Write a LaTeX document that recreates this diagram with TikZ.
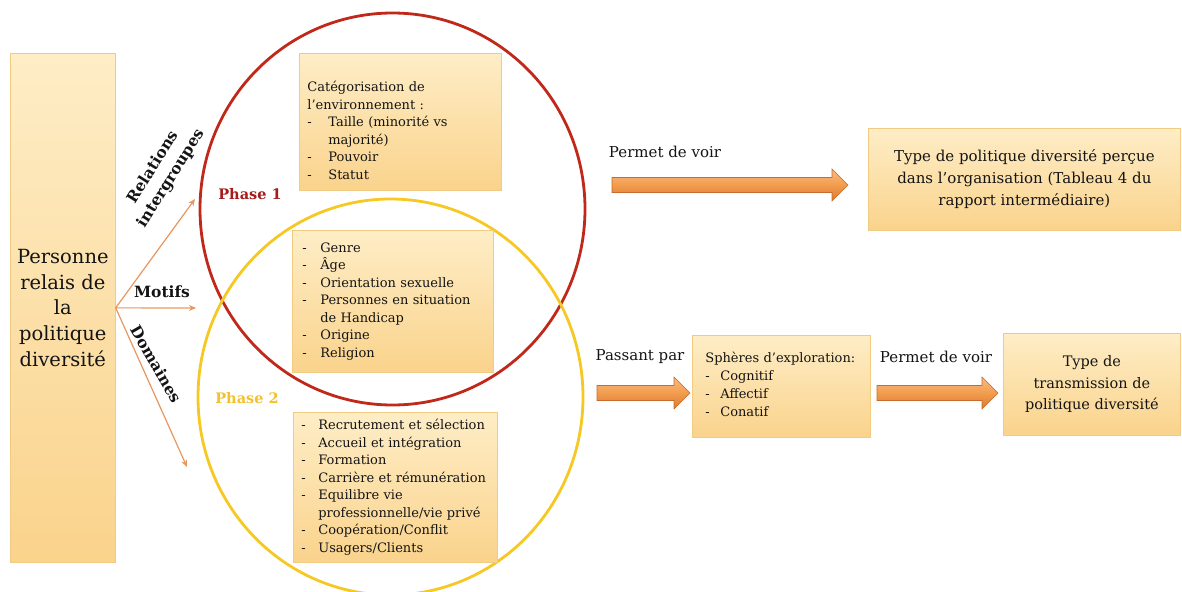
\documentclass[tikz,border=0pt]{standalone}
\usepackage{fontspec}
\setmainfont{DejaVu Serif}
\usetikzlibrary{calc,arrows.meta}
\definecolor{boxtop}{HTML}{FEEDC6}
\definecolor{boxbot}{HTML}{FAD38C}
\definecolor{boxline}{HTML}{F2CB82}
\definecolor{txt}{HTML}{141414}
\definecolor{redc}{HTML}{C0281A}
\definecolor{yelc}{HTML}{F6C823}
\definecolor{ph1}{HTML}{A51C1C}
\definecolor{ph2}{HTML}{F2C12E}
\definecolor{thin}{HTML}{E8965E}
\definecolor{arrtop}{HTML}{F9BC82}
\definecolor{arrmid}{HTML}{F29C4E}
\definecolor{arrbot}{HTML}{D97A30}
\definecolor{arrline}{HTML}{C9692A}
\newcommand\fatarr[2]{%
  \path[fatarrow] let \p1=(#1), \p2=(#2) in
   (\x1,\y1+7.5pt) -- (\x2-16pt,\y1+7.5pt) -- (\x2-16pt,\y1+16pt) -- (\x2,\y1)
   -- (\x2-16pt,\y1-16pt) -- (\x2-16pt,\y1-7.5pt) -- (\x1,\y1-7.5pt) -- cycle;}
\begin{document}
\begin{tikzpicture}[x=1pt,y=-1pt,
  box/.style={draw=boxline, line width=0.7pt, top color=boxtop, bottom color=boxbot,
    anchor=north west, text=txt, inner ysep=0pt},
  listfont/.style={font=\fontsize{13}{17.5}\selectfont},
  bigfont/.style={font=\fontsize{15}{22}\selectfont},
  lab/.style={text=txt, font=\fontsize{15.5}{21}\selectfont\bfseries, inner sep=0pt},
  plain/.style={text=txt, font=\fontsize{15}{18}\selectfont, inner sep=0pt},
  thinarrow/.style={draw=thin, line width=1.2pt, -{Stealth[length=7pt,width=6pt]}},
  fatarrow/.style={draw=arrline, line width=0.6pt, top color=arrtop, bottom color=arrbot, middle color=arrmid},
  phase/.style={font=\fontsize{14.5}{17}\selectfont\bfseries, inner sep=0pt}]
\useasboundingbox (0,0) rectangle (1182,591);

% circles
\draw[redc, line width=2.8pt] (392.5,209) ellipse [x radius=192.5pt, y radius=196pt];
\draw[yelc, line width=2.8pt] (390.5,397) ellipse [x radius=192.5pt, y radius=198pt];

% left box
\node[box, minimum width=105pt, minimum height=509pt, align=center,
  font=\fontsize{19.5}{25.7}\selectfont] (lp) at (10,53)
  {Personne\\relais de\\la\\politique\\diversité};

% phase boxes
\node[box, listfont, minimum width=202pt, minimum height=137pt, inner xsep=8pt, text width=186pt] (b1) at (299,53)
{\raisebox{-10pt}[\height][\depth]{\begin{tabular}{@{}p{21pt}@{}l@{}}
\multicolumn{2}{@{}l@{}}{Catégorisation de}\\
\multicolumn{2}{@{}l@{}}{l’environnement :}\\
- & Taille (minorité vs\\
  & majorité)\\
- & Pouvoir\\
- & Statut
\end{tabular}}};

\node[box, listfont, minimum width=201pt, minimum height=142pt, inner xsep=10pt, text width=181pt] (b2) at (292,230)
{\begin{tabular}{@{}p{18pt}@{}l@{}}
- & Genre\\
- & Âge\\
- & Orientation sexuelle\\
- & Personnes en situation\\
  & de Handicap\\
- & Origine\\
- & Religion
\end{tabular}};

\node[box, listfont, minimum width=204pt, minimum height=150pt, inner xsep=8pt, text width=188pt] (b3) at (293,412)
{\begin{tabular}{@{}p{17pt}@{}l@{}}
- & Recrutement et sélection\\
- & Accueil et intégration\\
- & Formation\\
- & Carrière et rémunération\\
- & Equilibre vie\\
  & professionnelle/vie privé\\
- & Coopération/Conflit\\
- & Usagers/Clients
\end{tabular}};

% phase labels
\node[phase, text=ph1] (p1) at (250,194) {Phase 1};
\node[phase, text=ph2] (p2) at (247,398) {Phase 2};

% thin arrows from left box
\coordinate (e1) at (195,199);
\coordinate (e2) at (196,308);
\coordinate (e3) at (187,467);
\draw[thinarrow] (lp.east) -- (e1);
\draw[thinarrow] (lp.east) -- (e2);
\draw[thinarrow] (lp.east) -- (e3);
\node[lab, rotate=58, align=center] (rel) at (162,173) {Relations\\intergroupes};
\node[lab] (mot) at (162,292) {Motifs};
\node[lab, rotate=-60] (dom) at (156,364) {Domaines};

% right boxes
\node[box, bigfont, minimum width=312pt, minimum height=102pt, align=center] (tp) at (868,128)
  {Type de politique diversité perçue\\dans l’organisation (Tableau 4 du\\rapport intermédiaire)};
\node[box, font=\fontsize{13}{18}\selectfont, minimum width=178pt, minimum height=102pt, inner xsep=13pt, text width=152pt] (sp) at (692,335)
{\begin{tabular}{@{}p{15pt}@{}l@{}}
\multicolumn{2}{@{}l@{}}{Sphères d’exploration:}\\
- & Cognitif\\
- & Affectif\\
- & Conatif
\end{tabular}};
\node[box, font=\fontsize{14.5}{21.5}\selectfont, minimum width=177pt, minimum height=102pt, align=center] (tt) at (1003,333)
  {Type de\\transmission de\\politique diversité};

% fat arrows
\coordinate (a1s) at (612,185);
\coordinate (a1e) at ($(tp.west)+(-20,6)$);
\fatarr{a1s}{a1e}
\node[plain] (pv1) at (665,152) {Permet de voir};

\coordinate (a2s) at (597,393);
\coordinate (a2e) at ($(sp.west)+(-2,7)$);
\fatarr{a2s}{a2e}
\node[plain] (pp) at (640,357) {Passant par};

\coordinate (a3s) at (877,393);
\coordinate (a3e) at ($(tt.west)+(-5,9)$);
\fatarr{a3s}{a3e}
\node[plain] (pv2) at (936,357) {Permet de voir};
\end{tikzpicture}
\end{document}
